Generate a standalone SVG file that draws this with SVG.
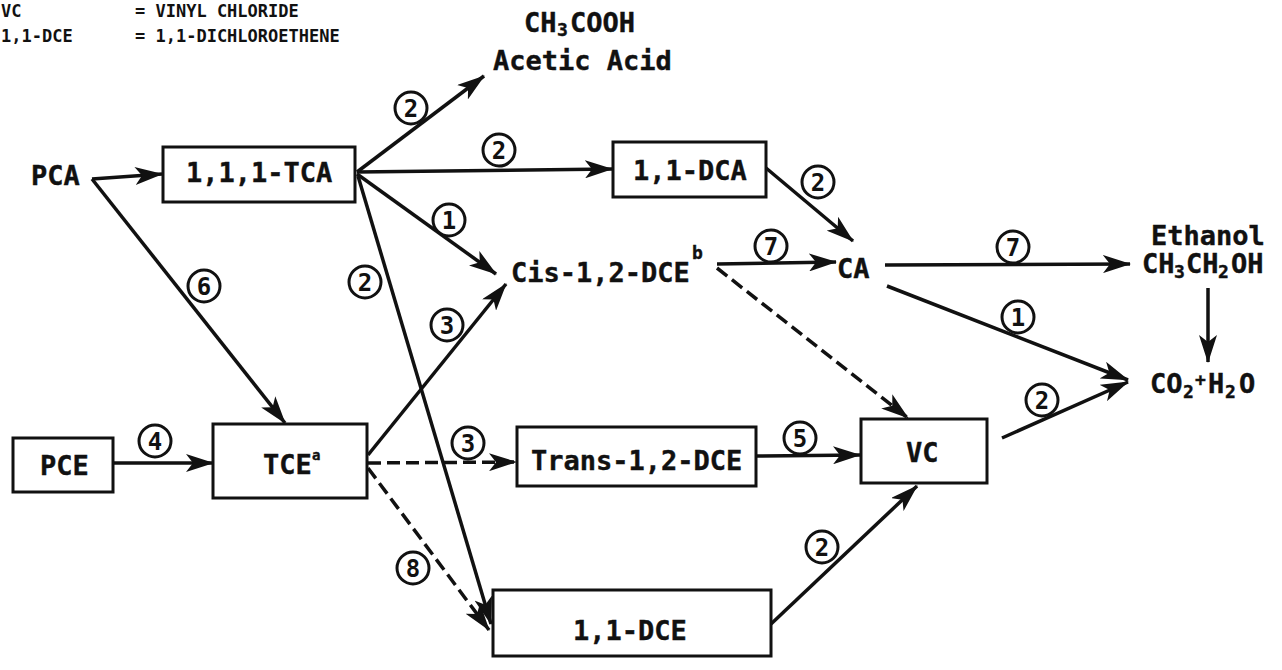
<svg xmlns="http://www.w3.org/2000/svg" width="1282" height="670" viewBox="0 0 1282 670">
<style>
.t{font-family:"DejaVu Sans Mono","Liberation Mono",monospace;font-weight:bold;font-size:27px;fill:#111;stroke:#111;stroke-width:0.4}
.s{font-size:18px}
.lg{font-family:"DejaVu Sans Mono","Liberation Mono",monospace;font-weight:bold;font-size:17px;fill:#111}
.box{fill:#fff;stroke:#111;stroke-width:3}
.ln{stroke:#111;stroke-width:3.5;fill:none;marker-end:url(#ah)}
.dash{stroke-dasharray:13 6}
.c circle{fill:#fff;stroke:#111;stroke-width:3}
.c text{font-family:"DejaVu Sans Mono","Liberation Mono",monospace;font-weight:bold;font-size:24px;fill:#111;text-anchor:middle}
</style>
<defs>
<marker id="ah" viewBox="0 0 28 18" refX="27" refY="9" markerWidth="28" markerHeight="18" orient="auto" markerUnits="userSpaceOnUse">
<path d="M0,0 L28,9 L0,18 L7,9 z" fill="#111"/>
</marker>
</defs>
<rect width="1282" height="670" fill="#fff"/>

<g id="legend">
<text class="lg" x="1" y="17">VC</text>
<text class="lg" x="1" y="42">1,1-DCE</text>
<text class="lg" x="135" y="17">= VINYL CHLORIDE</text>
<text class="lg" x="135" y="42">= 1,1-DICHLOROETHENE</text>
</g>

<g id="connectors">
<line class="ln" x1="92" y1="179" x2="162" y2="174"/>
<line class="ln" x1="92" y1="179" x2="285" y2="423"/>
<line class="ln" x1="357" y1="172" x2="484" y2="76"/>
<line class="ln" x1="357" y1="172" x2="612" y2="169"/>
<line class="ln" x1="357" y1="174" x2="496" y2="274"/>
<line class="ln" x1="358" y1="176" x2="491" y2="624"/>
<line class="ln" x1="113" y1="463" x2="213" y2="463"/>
<line class="ln" x1="368" y1="455" x2="506" y2="284"/>
<line class="ln dash" x1="368" y1="463" x2="516" y2="462"/>
<line class="ln dash" x1="368" y1="468" x2="489" y2="630"/>
<line class="ln" x1="766" y1="168" x2="853" y2="241"/>
<line class="ln" x1="717" y1="264" x2="836" y2="262"/>
<line class="ln dash" x1="717" y1="268" x2="908" y2="418"/>
<line class="ln" x1="885" y1="265" x2="1130" y2="264"/>
<line class="ln" x1="887" y1="286" x2="1128" y2="380"/>
<line class="ln" x1="1208" y1="288" x2="1208" y2="362"/>
<line class="ln" x1="756" y1="456" x2="860" y2="455"/>
<line class="ln" x1="771" y1="624" x2="917" y2="486"/>
<line class="ln" x1="1002" y1="438" x2="1128" y2="382"/>
</g>

<g id="labels" class="c">
<circle cx="411" cy="108" r="16"/><text x="411" y="117">2</text>
<circle cx="499" cy="150" r="16"/><text x="499" y="159">2</text>
<circle cx="449" cy="220" r="16"/><text x="449" y="229">1</text>
<circle cx="365" cy="282" r="16"/><text x="365" y="291">2</text>
<circle cx="204" cy="286" r="16"/><text x="204" y="295">6</text>
<circle cx="447" cy="325" r="16"/><text x="447" y="334">3</text>
<circle cx="155" cy="441" r="16"/><text x="155" y="450">4</text>
<circle cx="468" cy="443" r="16"/><text x="468" y="452">3</text>
<circle cx="413" cy="568" r="16"/><text x="413" y="577">8</text>
<circle cx="818" cy="182" r="16"/><text x="818" y="191">2</text>
<circle cx="771" cy="246" r="16"/><text x="771" y="255">7</text>
<circle cx="1013" cy="247" r="16"/><text x="1013" y="256">7</text>
<circle cx="1018" cy="317" r="16"/><text x="1018" y="326">1</text>
<circle cx="1042" cy="400" r="16"/><text x="1042" y="409">2</text>
<circle cx="800" cy="438" r="16"/><text x="800" y="447">5</text>
<circle cx="822" cy="547" r="16"/><text x="822" y="556">2</text>
</g>

<g id="PCA"><text class="t" x="31" y="185">PCA</text></g>
<g id="TCA"><rect class="box" x="163" y="147" width="192" height="55"/><text class="t" x="186" y="182">1,1,1-TCA</text></g>
<g id="AceticAcid">
<text class="t" x="524" y="32">CH</text><text class="t s" x="557" y="36">3</text><text class="t" x="570" y="32">COOH</text>
<text class="t" x="493" y="70">Acetic Acid</text>
</g>
<g id="DCA"><rect class="box" x="613" y="142" width="153" height="55"/><text class="t" x="633" y="180">1,1-DCA</text></g>
<g id="Cis"><text class="t" x="511" y="282">Cis-1,2-DCE</text><text class="t s" x="692" y="259">b</text></g>
<g id="CA"><text class="t" x="837" y="278">CA</text></g>
<g id="Ethanol">
<text class="t" x="1151" y="245">Ethanol</text>
<text class="t" x="1142" y="273">CH</text><text class="t s" x="1174" y="278">3</text><text class="t" x="1186" y="273">CH</text><text class="t s" x="1218" y="278">2</text><text class="t" x="1231" y="273">OH</text>
</g>
<g id="CO2">
<text class="t" x="1150" y="393">CO</text><text class="t s" x="1183" y="398">2</text><text class="t s" x="1195" y="386">+</text><text class="t" x="1208" y="393">H</text><text class="t s" x="1225" y="398">2</text><text class="t" x="1239" y="393">O</text>
</g>
<g id="PCE"><rect class="box" x="13" y="438" width="100" height="54"/><text class="t" x="40" y="475">PCE</text></g>
<g id="TCE"><rect class="box" x="213" y="424" width="154" height="74"/><text class="t" x="263" y="474">TCE</text><text class="t" style="font-size:14px" x="312" y="460">a</text></g>
<g id="Trans"><rect class="box" x="517" y="427" width="239" height="59"/><text class="t" x="531" y="470">Trans-1,2-DCE</text></g>
<g id="VC"><rect class="box" x="861" y="419" width="126" height="64"/><text class="t" x="906" y="462">VC</text></g>
<g id="DCE11"><rect class="box" x="493" y="590" width="278" height="66"/><text class="t" x="573" y="640">1,1-DCE</text></g>
</svg>
